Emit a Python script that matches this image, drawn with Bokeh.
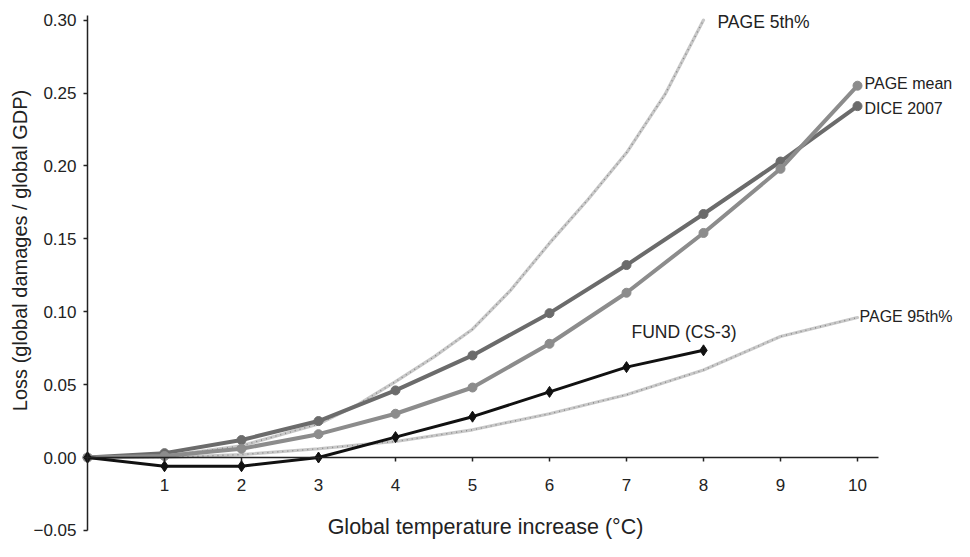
import math
from bokeh.plotting import figure
from bokeh.models import Label, FixedTicker, Range1d
from bokeh.embed import file_html
from bokeh.resources import INLINE

# ---- data ----
temps = [0, 1, 2, 3, 4, 5, 6, 7, 8, 9, 10]
dice_2007 = [0.0, 0.003, 0.012, 0.025, 0.046, 0.070, 0.099, 0.132, 0.167, 0.203, 0.241]
page_mean = [0.0, 0.001, 0.006, 0.016, 0.030, 0.048, 0.078, 0.113, 0.154, 0.198, 0.255]
page_95th = [0.0, 0.0, 0.002, 0.006, 0.011, 0.019, 0.030, 0.043, 0.060, 0.083, 0.096]

fund_temps = [0, 1, 2, 3, 4, 5, 6, 7, 8]
fund_cs3 = [0.0, -0.006, -0.006, 0.0, 0.014, 0.028, 0.045, 0.062, 0.0735]

p5_temps = [0, 1, 2, 3, 3.5, 4, 4.5, 5, 5.5, 6, 6.5, 7, 7.5, 8]
page_5th = [0.0, 0.001, 0.008, 0.023, 0.036, 0.052, 0.069, 0.088, 0.115, 0.147, 0.177, 0.209, 0.249, 0.300]

x_ticks = [1, 2, 3, 4, 5, 6, 7, 8, 9, 10]
y_ticks = [-0.05, 0.0, 0.05, 0.10, 0.15, 0.20, 0.25, 0.30]
y_tick_labels = ["\u22120.05", "0.00", "0.05", "0.10", "0.15", "0.20", "0.25", "0.30"]

x_title = "Global temperature increase (\u00b0C)"
y_title = "Loss (global damages / global GDP)"

# ---- layout (pixels) ----
W, H = 954, 541
ORIGIN_X, ORIGIN_Y = 87, 457      # canvas position of data (0, 0)
PX_X, PX_Y = 77.0, 1458.0         # pixels per data unit
x_axis_bounds = (0, 10.27)
y_axis_bounds = (-0.05, 0.303)

FONT = "Liberation Sans"
TXT = "#222222"

p = figure(width=W, height=H,
           x_range=Range1d(-ORIGIN_X / PX_X, (W - ORIGIN_X) / PX_X),
           y_range=Range1d(-(H - ORIGIN_Y) / PX_Y, ORIGIN_Y / PX_Y),
           output_backend="svg", toolbar_location=None,
           min_border=0, min_border_left=0, min_border_right=0,
           min_border_top=0, min_border_bottom=0)
p.outline_line_color = None
p.xgrid.grid_line_color = None
p.ygrid.grid_line_color = None
p.background_fill_color = "white"

# x axis crossing at y = 0
xa = p.xaxis[0]
xa.fixed_location = 0
xa.bounds = x_axis_bounds
xa.ticker = FixedTicker(ticks=x_ticks)
xa.minor_tick_line_color = None
xa.major_tick_in = 0
xa.major_tick_out = 4
xa.major_label_standoff = 17
xa.axis_line_color = TXT
xa.axis_line_width = 1.5
xa.major_tick_line_color = TXT
xa.major_tick_line_width = 1.5
xa.major_label_text_font = FONT
xa.major_label_text_font_size = "17px"
xa.major_label_text_color = TXT

# y axis at x = 0
ya = p.yaxis[0]
ya.fixed_location = 0
ya.bounds = y_axis_bounds
ya.ticker = FixedTicker(ticks=y_ticks)
ya.major_label_overrides = dict(zip(y_ticks, y_tick_labels))
ya.minor_tick_line_color = None
ya.major_tick_in = 0
ya.major_tick_out = 4
ya.major_label_standoff = 7
ya.axis_line_color = TXT
ya.axis_line_width = 1.5
ya.major_tick_line_color = TXT
ya.major_tick_line_width = 1.5
ya.major_label_text_font = FONT
ya.major_label_text_font_size = "17px"
ya.major_label_text_color = TXT

# axis titles
p.add_layout(Label(x=485, y=15, x_units="screen", y_units="screen", text=x_title,
                   text_font=FONT, text_font_size="21.5px", text_color=TXT,
                   text_align="center", text_baseline="alphabetic"))
p.add_layout(Label(x=19, y=H - 250, x_units="screen", y_units="screen", text=y_title,
                   angle=math.pi / 2,
                   text_font=FONT, text_font_size="20px", text_color=TXT,
                   text_align="center", text_baseline="alphabetic"))

# PAGE percentile curves: light grey band with darker dots
for xs, ys in [(temps, page_95th), (p5_temps, page_5th)]:
    p.line(xs, ys, line_color="#c8c8c8", line_width=3.2, line_cap="round")
    p.line(xs, ys, line_color="#888888", line_width=1.4, line_dash="1 4")

# DICE 2007
p.line(temps, dice_2007, line_color="#6b6b6b", line_width=4, line_join="round")
p.scatter(temps, dice_2007, marker="circle", size=9, color="#6b6b6b")

# PAGE mean
p.line(temps, page_mean, line_color="#8c8c8c", line_width=4, line_join="round")
p.scatter(temps, page_mean, marker="circle", size=9, color="#8c8c8c")

# FUND (CS-3)
p.line(fund_temps, fund_cs3, line_color="#111111", line_width=3, line_join="round")
p.scatter(fund_temps, fund_cs3, marker="diamond", size=11, color="#111111")

# series labels, anchored at the end of each series
labels = [
    ("PAGE 5th%", p5_temps[-1], page_5th[-1], 14, -2, "17.5px"),
    ("PAGE mean", temps[-1], page_mean[-1], 7, 2, "16px"),
    ("DICE 2007", temps[-1], dice_2007[-1], 7, -2, "16px"),
    ("FUND (CS-3)", fund_temps[-1], fund_cs3[-1], -72, 18, "17.5px"),
    ("PAGE 95th%", temps[-1], page_95th[-1], 2, 1, "16px"),
]
for txt, lx, ly, dx, dy, fs in labels:
    p.add_layout(Label(x=lx, y=ly, text=txt, x_offset=dx, y_offset=dy,
                       text_font=FONT, text_font_size=fs, text_color=TXT,
                       text_baseline="middle", text_align="left"))

open("out.html", "w").write(file_html(p, INLINE))
